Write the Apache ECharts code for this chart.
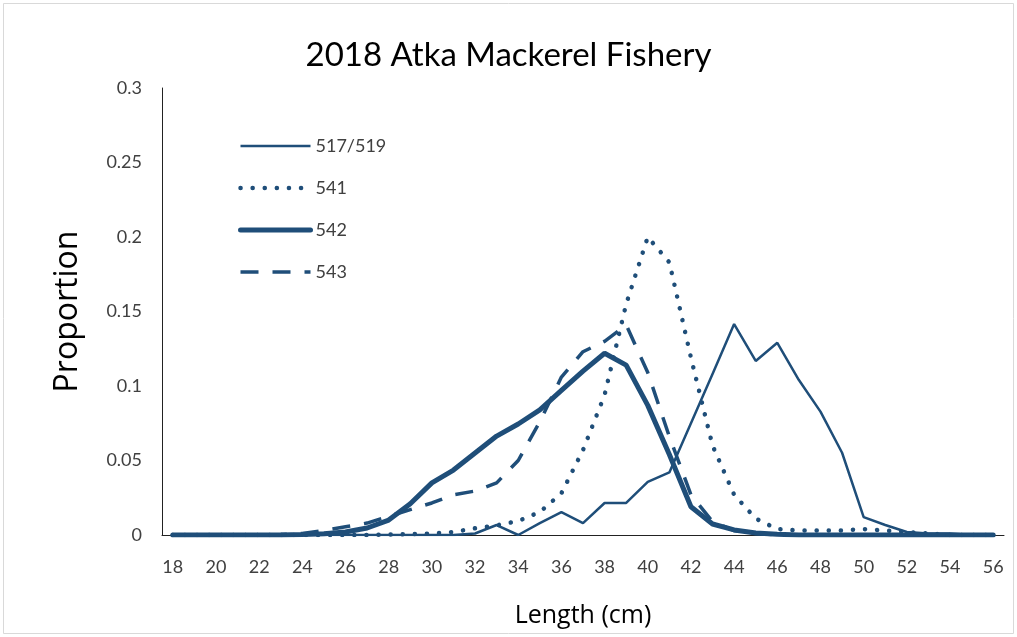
<!DOCTYPE html>
<html>
<head>
<meta charset="utf-8">
<script src="https://cdn.jsdelivr.net/npm/echarts@6/dist/echarts.min.js"></script>
<style>html,body{margin:0;padding:0;background:#fff}#c{width:1017px;height:637px}</style>
</head>
<body>
<div id="c"></div>
<script>
const lengths = [18,19,20,21,22,23,24,25,26,27,28,29,30,31,32,33,34,35,36,37,38,39,40,41,42,43,44,45,46,47,48,49,50,51,52,53,54,55,56];
const s517 = [0,0,0,0,0,0,0,0,0,0,0,0,0,0,0.001,0.0067,0,0.008,0.0154,0.008,0.0215,0.0215,0.0356,0.042,0.075,0.108,0.1416,0.1168,0.129,0.104,0.0828,0.0552,0.012,0.0067,0.002,0.001,0.001,0,0];
const s541 = [0,0,0,0,0,0,0,0,0,0,0.0003,0.0005,0.001,0.002,0.0045,0.0065,0.0094,0.0154,0.028,0.057,0.094,0.155,0.2,0.183,0.119,0.06,0.027,0.011,0.004,0.003,0.003,0.003,0.004,0.003,0.002,0.001,0,0,0];
const s542 = [0,0,0,0,0,0,0.0003,0.0008,0.002,0.0047,0.01,0.021,0.035,0.0436,0.055,0.0664,0.0745,0.084,0.097,0.11,0.122,0.114,0.087,0.054,0.019,0.0074,0.0034,0.0013,0.0005,0,0,0,0,0,0,0,0,0,0];
const s543 = [0,0,0,0,0,0.0003,0.001,0.003,0.0055,0.008,0.0125,0.017,0.0215,0.027,0.0295,0.035,0.05,0.076,0.106,0.123,0.13,0.141,0.109,0.066,0.027,0.009,0.003,0.001,0,0,0,0,0,0,0,0,0,0,0];
const seriesNames = ['517/519','541','542','543'];

const color = '#1f4e79';
const styles = [
  {color:color, width:2.5, type:'solid'},
  {color:color, width:4.5, type:[0.1,12], cap:'round'},
  {color:color, width:5, type:'solid', cap:'round'},
  {color:color, width:3.5, type:[18,14]}
];
const dataArr = [s517, s541, s542, s543];
const chart = echarts.init(document.getElementById('c'), null, {renderer:'canvas'});
chart.setOption({
  animation:false,
  backgroundColor:'#fff',
  title:{text:'2018 Atka Mackerel Fishery', left:'center', top:34,
    textStyle:{fontFamily:'Lato', fontSize:33, fontWeight:'normal', color:'#000'}},
  legend:{orient:'vertical', left:238, top:137, padding:0, itemWidth:70, itemHeight:14, itemGap:24,
    itemStyle:{opacity:0},
    textStyle:{fontFamily:'Lato', fontSize:18, color:'#404040'},
    data:seriesNames.map((n,i)=>({name:n, lineStyle:styles[i], itemStyle:{opacity:0}}))},
  grid:{left:162, right:13, top:88, bottom:102, containLabel:false},
  xAxis:{type:'category', data:lengths, boundaryGap:true,
    axisLine:{lineStyle:{color:'#222', width:1}}, axisTick:{show:false},
    axisLabel:{interval:1, fontFamily:'Lato', fontSize:18, color:'#404040', margin:23},
    name:'Length (cm)', nameLocation:'middle', nameGap:68,
    nameTextStyle:{fontFamily:'Open Sans', fontSize:25, color:'#000'}},
  yAxis:{type:'value', min:0, max:0.3, interval:0.05, splitLine:{show:false},
    axisLine:{show:true, lineStyle:{color:'#222', width:1}}, axisTick:{show:false},
    axisLabel:{fontFamily:'Lato', fontSize:18, color:'#404040', margin:20},
    name:'Proportion', nameLocation:'middle', nameGap:78,
    nameTextStyle:{fontFamily:'Open Sans', fontSize:32, color:'#000'}},
  series:seriesNames.map((n,i)=>({name:n, type:'line', data:dataArr[i], symbol:'none',
    lineStyle:styles[i], itemStyle:{color:color}})),
  graphic:[{type:'rect', shape:{x:3.5,y:3.5,width:1010,height:630}, style:{fill:'none', stroke:'#d9d9d9', lineWidth:1}, silent:true, z:-1}]
});
</script>
</body>
</html>
